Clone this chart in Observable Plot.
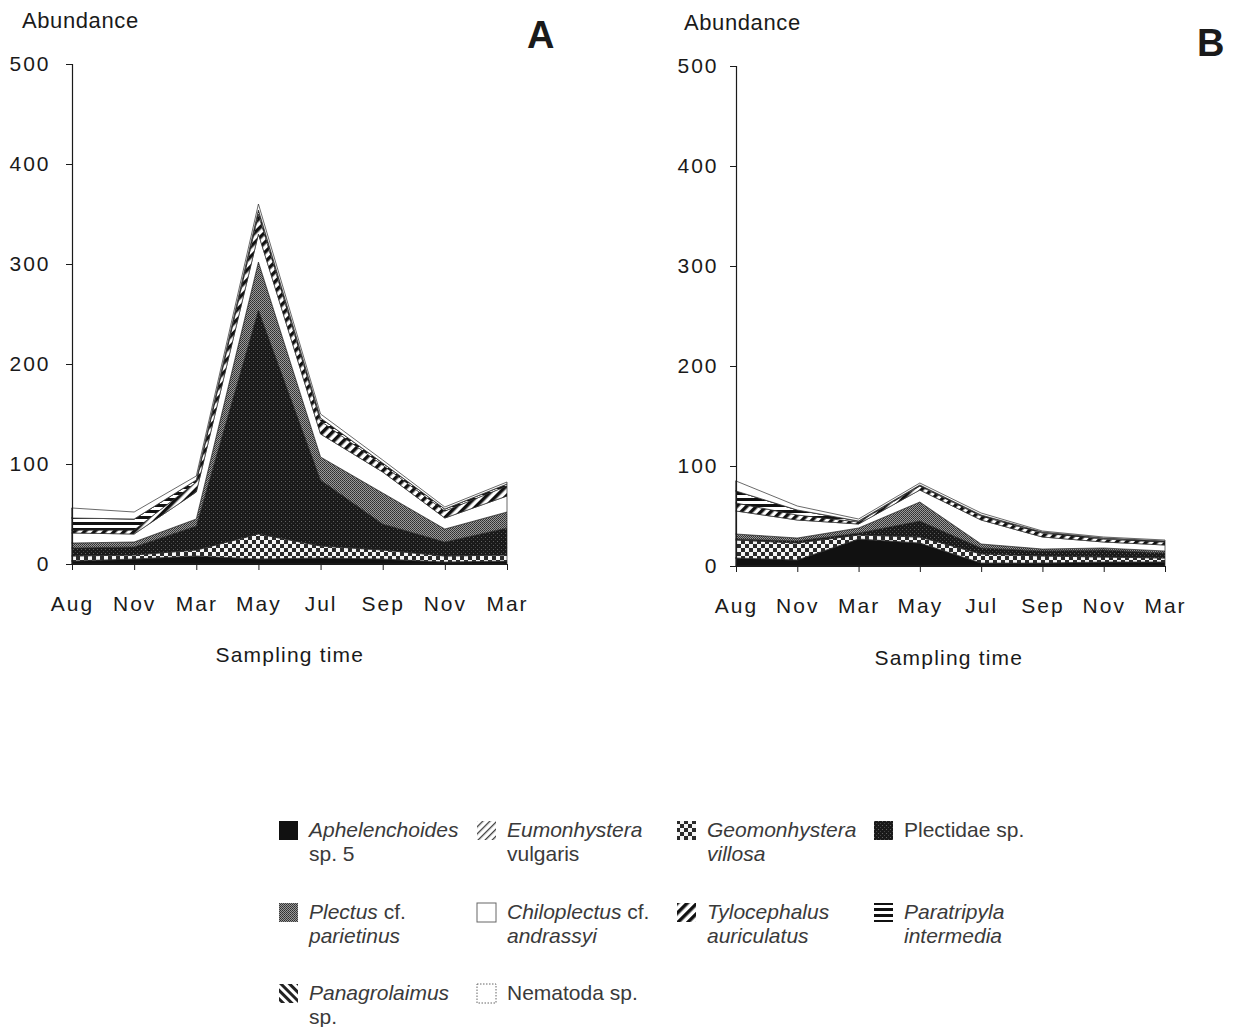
<!DOCTYPE html>
<html><head><meta charset="utf-8">
<script src="https://cdn.jsdelivr.net/npm/d3@7"></script>
<script src="https://cdn.jsdelivr.net/npm/@observablehq/plot@0.6"></script>
<style>
body{margin:0;background:#fff;font-family:"Liberation Sans",Arial,sans-serif;}
#page{position:relative;width:1234px;height:1027px;overflow:hidden;background:#fff;}
.abs{position:absolute;white-space:nowrap;color:#1a1a1a;line-height:1;}
.plot{position:absolute;top:0;}
.leg{position:absolute;font-size:21px;line-height:24px;color:#3a3a3a;white-space:nowrap;}
.sw{position:absolute;}
</style></head><body>
<svg width="0" height="0" style="position:absolute">
<defs>
<pattern id="p-aph" width="4" height="4" patternUnits="userSpaceOnUse"><rect width="4" height="4" fill="#111"/></pattern>
<pattern id="p-eum" width="5" height="5" patternUnits="userSpaceOnUse" patternTransform="rotate(45)"><rect width="5" height="5" fill="#fff"/><rect width="1.3" height="5" fill="#444"/></pattern>
<pattern id="p-geo" width="8" height="8" patternUnits="userSpaceOnUse"><rect width="8" height="8" fill="#f4f4f4"/><rect width="4" height="4" fill="#2a2a2a"/><rect x="4" y="4" width="4" height="4" fill="#2a2a2a"/></pattern>
<pattern id="p-pld" width="4" height="4" patternUnits="userSpaceOnUse"><rect width="4" height="4" fill="#1a1a1a"/><rect x="1" y="1" width="1" height="1" fill="#606060"/><rect x="3" y="3" width="1" height="1" fill="#444"/></pattern>
<pattern id="p-plc" width="2" height="2" patternUnits="userSpaceOnUse"><rect width="2" height="2" fill="#9a9a9a"/><rect width="1" height="1" fill="#2e2e2e"/><rect x="1" y="1" width="1" height="1" fill="#3e3e3e"/></pattern>
<pattern id="p-chi" width="4" height="4" patternUnits="userSpaceOnUse"><rect width="4" height="4" fill="#fff"/></pattern>
<pattern id="p-tyl" width="7" height="7" patternUnits="userSpaceOnUse" patternTransform="rotate(45)"><rect width="7" height="7" fill="#fff"/><rect width="3.5" height="7" fill="#111"/></pattern>
<pattern id="p-par" width="6" height="6" patternUnits="userSpaceOnUse"><rect width="6" height="6" fill="#fff"/><rect width="6" height="3" fill="#111"/></pattern>
<pattern id="p-pan" width="6" height="6" patternUnits="userSpaceOnUse" patternTransform="rotate(-45)"><rect width="6" height="6" fill="#fff"/><rect width="3" height="6" fill="#222"/></pattern>
<pattern id="p-nem" width="4" height="4" patternUnits="userSpaceOnUse"><rect width="4" height="4" fill="#fff"/></pattern>
</defs>
</svg>
<div id="page"></div>
<script>
// ---- data ----
const months = ["Aug","Nov","Mar","May","Jul","Sep","Nov","Mar"];
const species = ["Aphelenchoides sp. 5","Eumonhystera vulgaris","Geomonhystera villosa","Plectidae sp.","Plectus cf. parietinus","Chiloplectus cf. andrassyi","Tylocephalus auriculatus","Paratripyla intermedia","Panagrolaimus sp.","Nematoda sp."];
const fills = ["url(#p-aph)","url(#p-eum)","url(#p-geo)","url(#p-pld)","url(#p-plc)","url(#p-chi)","url(#p-tyl)","url(#p-par)","url(#p-pan)","url(#p-nem)"];

// Panel A (abundance per sampling time)
const aphelenchoidesA = [3,5,8,5,6,5,2,3];
const eumonhysteraA   = [0,0,0,0,0,0,0,0];
const geomonhysteraA  = [5,4,6,25,12,9,6,6];
const plectidaeA      = [8,8,24,224,66,26,14,27];
const plectusA        = [5,5,7,48,23,31,13,16];
const chiloplectusA   = [10,8,27,28,23,21,11,16];
const tylocephalusA   = [3,4,10,20,13,7,7,10];
const paratripylaA    = [12,11,2,4,3,2,2,2];
const panagrolaimusA  = [0,0,0,0,0,0,0,0];
const nematodaA       = [10,7,4,6,4,3,2,2];

// Panel B
const aphelenchoidesB = [8,6,27,23,3,3,4,4];
const eumonhysteraB   = [0,0,0,0,0,0,0,0];
const geomonhysteraB  = [18,17,4,6,9,7,5,4];
const plectidaeB      = [1,2,2,16,6,5,7,5];
const plectusB        = [5,3,5,19,4,2,2,2];
const chiloplectusB   = [23,18,4,12,24,12,6,6];
const tylocephalusB   = [8,5,2,4,4,4,3,3];
const paratripylaB    = [12,5,1,1,1,1,1,1];
const panagrolaimusB  = [0,0,0,0,0,0,0,0];
const nematodaB       = [10,4,2,2,2,1,1,1];

const yTicks = [0,100,200,300,400,500];

const seriesA = [aphelenchoidesA,eumonhysteraA,geomonhysteraA,plectidaeA,plectusA,chiloplectusA,tylocephalusA,paratripylaA,panagrolaimusA,nematodaA];
const seriesB = [aphelenchoidesB,eumonhysteraB,geomonhysteraB,plectidaeB,plectusB,chiloplectusB,tylocephalusB,paratripylaB,panagrolaimusB,nematodaB];

const page = document.getElementById("page");
const FONT = '"Liberation Sans", Arial, Helvetica, sans-serif';

function panel(series, m) {
  const rows = [];
  species.forEach((s, k) => series[k].forEach((v, i) => rows.push({t: i, species: s, value: v})));
  return Plot.plot({
    width: 617, height: 680,
    marginLeft: m.left, marginRight: m.right, marginTop: m.top, marginBottom: m.bottom,
    style: {fontFamily: FONT, fontSize: "21px", color: "#1a1a1a", letterSpacing: "2px", background: "transparent"},
    x: {domain: [0, 7], ticks: d3.range(8), tickFormat: i => months[i], tickSize: 6, tickPadding: 26, label: null},
    y: {domain: [0, 500], ticks: yTicks, tickSize: 6, tickPadding: m.pad, label: null},
    color: {domain: species, range: fills},
    marks: [
      Plot.areaY(rows, {x: "t", y: "value", z: "species", fill: "species", order: species, stroke: "#2a2a2a", strokeWidth: 0.7, curve: "linear"}),
      Plot.ruleX([0], {y1: 0, y2: 500, stroke: "#1a1a1a", strokeWidth: 1.2}),
      Plot.ruleY([0], {x1: 0, x2: 7, stroke: "#1a1a1a", strokeWidth: 1.2})
    ]
  });
}

const svgA = panel(seriesA, {left: 72, right: 110, top: 64, bottom: 116, pad: 16});
svgA.classList.add("plot"); svgA.style.left = "0px";
page.appendChild(svgA);
const svgB = panel(seriesB, {left: 119, right: 69, top: 66, bottom: 114, pad: 12});
svgB.classList.add("plot"); svgB.style.left = "617px";
page.appendChild(svgB);

function text(str, x, baseline, fs, opts = {}) {
  const d = document.createElement("div");
  d.className = "abs";
  d.textContent = str;
  d.style.fontSize = fs + "px";
  d.style.top = (baseline - 0.8465 * fs) + "px";
  if (opts.weight) d.style.fontWeight = opts.weight;
  if (opts.ls) d.style.letterSpacing = opts.ls;
  page.appendChild(d);
  if (opts.center) d.style.left = (x - d.offsetWidth / 2) + "px";
  else d.style.left = x + "px";
  return d;
}
text("Abundance", 22, 29, 22, {ls: "0.6px"});
text("Abundance", 684, 31, 22, {ls: "0.6px"});
text("A", 527, 48, 38, {weight: "bold"});
text("B", 1197, 56, 38, {weight: "bold"});
text("Sampling time", 290, 662, 21, {center: true, ls: "1.2px"});
text("Sampling time", 949, 665, 21, {center: true, ls: "1.2px"});

// ---- legend ----
const legendLines = [
  ['<i>Aphelenchoides</i>', 'sp. 5'],
  ['<i>Eumonhystera</i>', 'vulgaris'],
  ['<i>Geomonhystera</i>', '<i>villosa</i>'],
  ['Plectidae sp.', ''],
  ['<i>Plectus</i> cf.', '<i>parietinus</i>'],
  ['<i>Chiloplectus</i> cf.', '<i>andrassyi</i>'],
  ['<i>Tylocephalus</i>', '<i>auriculatus</i>'],
  ['<i>Paratripyla</i>', '<i>intermedia</i>'],
  ['<i>Panagrolaimus</i>', 'sp.'],
  ['Nematoda sp.', '']
];
const colX = [278, 476, 676, 873];
const rowY = [820, 902, 983];
species.forEach((s, k) => {
  const c = k % 4, r = Math.floor(k / 4);
  const sx = colX[c], sy = rowY[r];
  const sw = d3.create("svg").attr("width", 22).attr("height", 22).attr("class", "sw")
    .style("left", sx + "px").style("top", sy + "px");
  const white = (k === 5 || k === 9);
  sw.append("rect").attr("x", 1).attr("y", 1).attr("width", 19).attr("height", 19)
    .attr("fill", fills[k])
    .attr("stroke", white ? "#666" : "none").attr("stroke-width", 1)
    .attr("stroke-dasharray", k === 9 ? "1.5,1.5" : null);
  page.appendChild(sw.node());
  const t = document.createElement("div");
  t.className = "leg";
  t.style.left = (sx + 31) + "px";
  t.style.top = (sy - 2) + "px";
  t.innerHTML = legendLines[k][0] + (legendLines[k][1] ? "<br>" + legendLines[k][1] : "");
  page.appendChild(t);
});
</script>
</body></html>
